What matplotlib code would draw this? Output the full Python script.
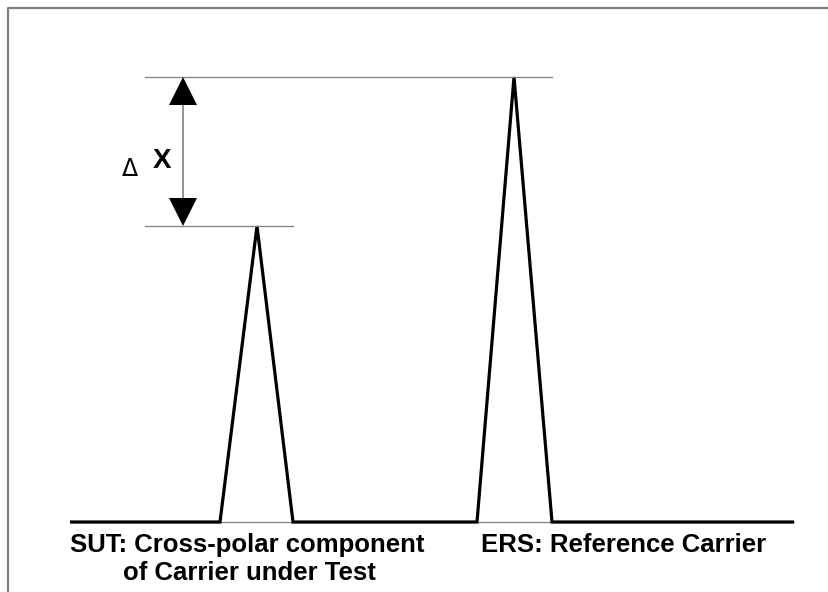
import matplotlib
matplotlib.use("Agg")
import matplotlib.pyplot as plt

# Spectrum (frequency position, level above baseline)
freq = [70, 220, 257, 293, 477, 514, 552, 794]
level = [0, 0, 296, 0, 0, 445, 0, 0]

sut_peak = 296
ers_peak = 445
label_sut = ["SUT: Cross-polar component", "of Carrier under Test"]
label_ers = "ERS: Reference Carrier"

W, H = 829, 592
base_y = 522  # pixel row of baseline

fig = plt.figure(figsize=(W / 100, H / 100), dpi=100)
ax = fig.add_axes([0, 0, 1, 1])
ax.set_xlim(0, W)
ax.set_ylim(base_y - H, base_y)
ax.axis("off")

gray = "#808080"

# frame (left and top)
ax.plot([8 / W, 8 / W, 1.0], [0.0, 1 - 7.5 / H, 1 - 7.5 / H], transform=ax.transAxes,
        color=gray, lw=1.6, solid_capstyle="butt", clip_on=False)

# thin baseline under peaks
ax.plot([freq[0], freq[-1]], [0, 0], color=gray, lw=0.9)
# spectrum trace
ax.plot(freq, level, color="black", lw=2.3, solid_joinstyle="miter", solid_capstyle="butt")

# reference lines
ax.plot([145, freq[6]], [ers_peak, ers_peak], color=gray, lw=0.9)
ax.plot([145, freq[3]], [sut_peak, sut_peak], color=gray, lw=0.9)

# delta arrow
ax_x = 183
head = 28
ax.plot([ax_x, ax_x], [ers_peak - head, sut_peak + head], color=gray, lw=1.2)
ms = head * 0.72
ax.plot([ax_x], [ers_peak - head / 2], marker="^", ms=ms, color="black", mew=0)
ax.plot([ax_x], [sut_peak + head / 2], marker="v", ms=ms, color="black", mew=0)

ax.text(130, base_y - 176, "Δ", fontsize=17, family="DejaVu Sans", ha="center", va="baseline")
ax.text(162.5, base_y - 168, "X", fontsize=20, fontweight="bold", family="Liberation Sans",
        ha="center", va="baseline")

# labels
fs = 18.5
ax.text(70, base_y - 552, label_sut[0], fontsize=fs, fontweight="bold",
        family="Liberation Sans", ha="left", va="baseline")
ax.text(123, base_y - 580, label_sut[1], fontsize=fs, fontweight="bold",
        family="Liberation Sans", ha="left", va="baseline")
ax.text(481, base_y - 552, label_ers, fontsize=fs, fontweight="bold",
        family="Liberation Sans", ha="left", va="baseline")

fig.savefig("out.png", dpi=100, facecolor="white")
